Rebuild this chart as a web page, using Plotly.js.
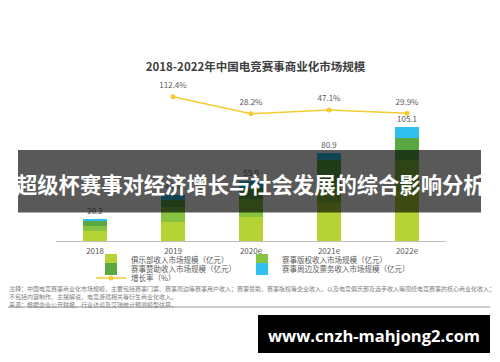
<!DOCTYPE html>
<html><head><meta charset="utf-8">
<script src="https://cdn.plot.ly/plotly-3.0.1.min.js"></script>
<style>html,body{margin:0;padding:0;background:#fff;}#chart{width:500px;height:362px;}</style>
</head><body><div id="chart"></div>
<script>
// ---- data ----
const years = ['2018', '2019', '2020e', '2021e', '2022e'];
const clubRevenue = [9.5, 17.8, 22.5, 35.1, 46.8];
const rightsRevenue = [4.6, 13.3, 16.1, 18.5, 28.0];
const sponsorRevenue = [4.3, 7.2, 10.4, 21.3, 20.1];
const merchRevenue = [1.8, 4.6, 6.0, 6.0, 10.2];
const totals = [20.2, 42.9, 55.0, 80.9, 105.1];
const growthRate = [null, 112.4, 28.2, 47.1, 29.9];
const seriesNames = ['俱乐部收入市场规模（亿元）', '赛事版权收入市场规模（亿元）', '赛事赞助收入市场规模（亿元）', '赛事周边及票务收入市场规模（亿元）', '增长率（%）'];
const chartTitle = '2018-2022年中国电竞赛事商业化市场规模';
const bannerText = '超级杯赛事对经济增长与社会发展的综合影响分析';
const noteLines = [
  '注释：中国电竞赛事商业化市场规模，主要包括赛事门票、赛事周边等赛事用户收入；赛事赞助、赛事版权等企业收入，以及电竞俱乐部及选手收入等围绕电竞赛事的核心商业化收入；',
  '不包括内容制作、主播解说、电竞游戏相关等衍生商业化收入。',
  '来源：根据企业公开财报，行业访谈及艾瑞统计预测模型估算。'
];
const watermark = 'www.cnzh-mahjong2.com';

// ---- geometry ----
const L = 56, R = 446, T = 80, B = 241, W = 500, H = 362;
const px = v => (v - L) / (R - L);
const py = v => (B - v) / (B - T);
const FONT = '"Noto Sans CJK SC", "Noto Sans", sans-serif';
const gray = '#595959';

const colors = ['#b5d334', '#86c440', '#5aa842', '#2fc0ee'];
const series = [clubRevenue, rightsRevenue, sponsorRevenue, merchRevenue];
const legendOf = ['legend', 'legend2', 'legend3', 'legend4'];

const traces = series.map((vals, i) => ({
  type: 'bar', x: years, y: vals, name: seriesNames[i],
  marker: {color: colors[i]}, legend: legendOf[i], hoverinfo: 'y+name'
}));

// total labels above the bars (invisible marker sets the text offset)
traces.push({
  type: 'scatter', mode: 'markers+text', x: years, y: totals,
  marker: {size: 4, color: 'rgba(0,0,0,0)'},
  text: totals.map(v => v.toFixed(1)), textposition: 'top center',
  textfont: {size: 8, color: gray, family: FONT}, showlegend: false, hoverinfo: 'skip'
});

// growth rate line
traces.push({
  type: 'scatter', mode: 'lines+markers', x: years, y: growthRate, yaxis: 'y2',
  name: seriesNames[4], legend: 'legend5',
  line: {color: '#f2cc30', width: 1.5}, marker: {color: '#f2cc30', size: 5},
  connectgaps: false
});
// growth rate labels
traces.push({
  type: 'scatter', mode: 'markers+text', x: years, y: growthRate, yaxis: 'y2', showlegend: false, hoverinfo: 'skip',
  marker: {size: 9, color: 'rgba(0,0,0,0)'},
  text: growthRate.map(v => v == null ? '' : v.toFixed(1) + '%'), textposition: 'top center',
  textfont: {size: 8, color: gray, family: FONT}
});

const legendBase = {
  orientation: 'h', xanchor: 'left', yanchor: 'top', bgcolor: 'rgba(0,0,0,0)',
  font: {size: 7.5, color: gray, family: FONT},
  itemclick: false, itemdoubleclick: false
};
const col1 = px(91), col2 = px(242);
const row = [py(245.5), py(254.5), py(263.5)];

const layout = {
  width: W, height: H,
  margin: {l: L, r: W - R, t: T, b: H - B, pad: 0, autoexpand: false},
  paper_bgcolor: '#ffffff', plot_bgcolor: '#ffffff',
  font: {family: FONT, color: gray},
  title: {text: chartTitle, x: 255.5 / W, xref: 'container', xanchor: 'center',
          y: 1 - 67 / H, yref: 'container', yanchor: 'middle',
          font: {size: 11.5, color: '#404040', weight: 700, family: FONT}},
  barmode: 'stack', bargap: 1 - 24 / 78,
  xaxis: {type: 'category', showline: true, linecolor: '#bfbfbf', linewidth: 1, ticks: '',
          showgrid: false, zeroline: false, tickfont: {size: 8, color: gray, family: FONT}, ticklabelstandoff: 2},
  yaxis: {visible: false, range: [0, (B - T) / 1.0836], showgrid: false, zeroline: false},
  yaxis2: {visible: false, overlaying: 'y', range: [-602, 195], showgrid: false, zeroline: false},
  legend: Object.assign({}, legendBase, {x: col1, y: row[0]}),
  legend2: Object.assign({}, legendBase, {x: col2, y: row[0]}),
  legend3: Object.assign({}, legendBase, {x: col1, y: row[1]}),
  legend4: Object.assign({}, legendBase, {x: col2, y: row[1]}),
  legend5: Object.assign({}, legendBase, {x: col1, y: row[2]}),
  shapes: [
    {type: 'rect', xref: 'paper', yref: 'paper', x0: px(18), x1: px(481), y0: py(212.5), y1: py(150),
     fillcolor: 'rgba(0,0,0,0.65)', line: {width: 0}, layer: 'above'},
    {type: 'line', xref: 'paper', yref: 'paper', x0: px(8), x1: px(490), y0: py(307), y1: py(307),
     line: {color: '#9a9a9a', width: 1}, layer: 'above'},
    {type: 'rect', xref: 'paper', yref: 'paper', x0: px(258), x1: px(490), y0: py(353), y1: py(315),
     fillcolor: '#000000', line: {width: 0}, layer: 'above'}
  ],
  annotations: [
    {xref: 'paper', yref: 'paper', x: px(250), y: py(183), xanchor: 'center', yanchor: 'middle',
     text: bannerText, showarrow: false, font: {size: 21.3, color: '#ffffff', weight: 700, family: FONT}},
    {xref: 'paper', yref: 'paper', x: px(374), y: py(335), xanchor: 'center', yanchor: 'middle',
     text: watermark, showarrow: false, font: {size: 16.5, color: '#ffffff', weight: 700, family: '"Open Sans", sans-serif'}},
    {xref: 'paper', yref: 'paper', x: px(7), y: py(296), xanchor: 'left', yanchor: 'middle', align: 'left',
     text: noteLines.join('<br>'), showarrow: false, font: {size: 6, color: '#808080', family: FONT}}
  ]
};

Plotly.newPlot('chart', traces, layout, {displayModeBar: false, staticPlot: true});
</script></body></html>
